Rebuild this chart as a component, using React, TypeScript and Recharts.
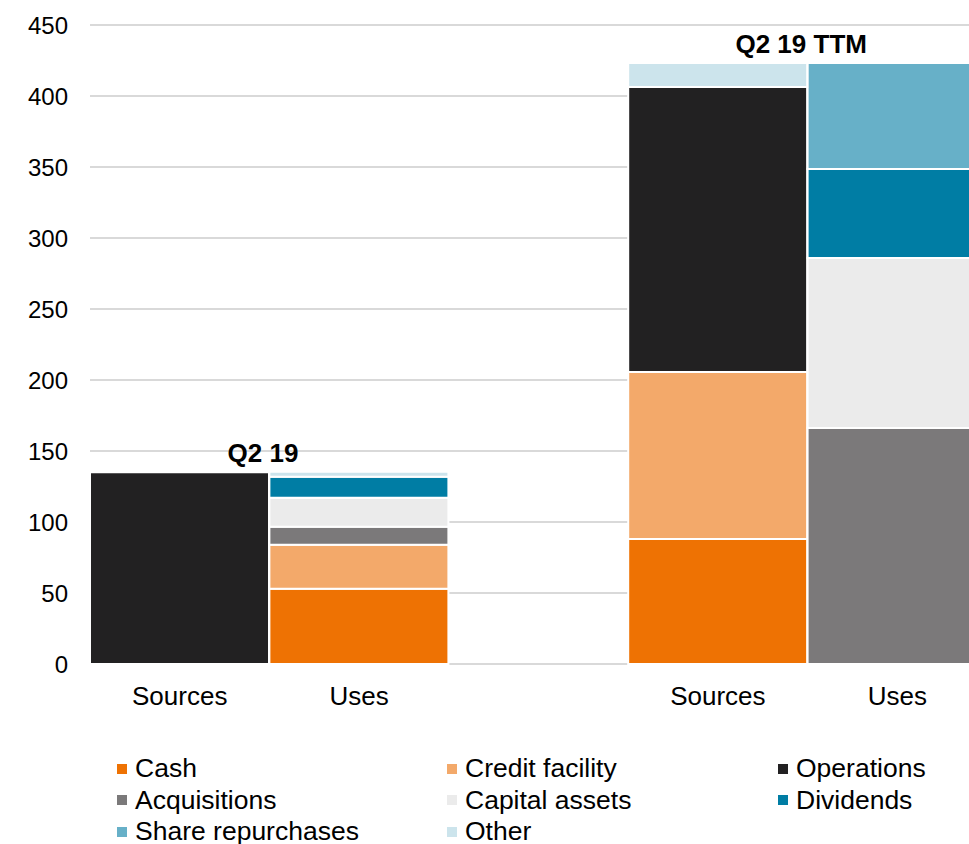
import React from 'react';
import { BarChart, Bar, XAxis, YAxis, CartesianGrid, Legend, LabelList } from 'recharts';

const categories = ['Sources', 'Uses', '', 'Sources', 'Uses'];
const groupTitles = ['Q2 19', '', '', 'Q2 19 TTM', ''];
const cash = [0, 53, 0, 88, 0];
const creditFacility = [0, 31, 0, 117.6, 0];
const operations = [135, 0, 0, 200.7, 0];
const acquisitions = [0, 12.7, 0, 0, 166.2];
const capitalAssets = [0, 20.4, 0, 0, 119.7];
const dividends = [0, 14.8, 0, 0, 62.7];
const shareRepurchases = [0, 0, 0, 0, 74.6];
const other = [0, 3.5, 0, 17, 0];
const yTicks = [0, 50, 100, 150, 200, 250, 300, 350, 400, 450];

const seriesDefs = [
  { key: 'cash', name: 'Cash', color: '#EE7203', values: cash },
  { key: 'credit', name: 'Credit facility', color: '#F3A96A', values: creditFacility },
  { key: 'ops', name: 'Operations', color: '#222122', values: operations },
  { key: 'acq', name: 'Acquisitions', color: '#7B797A', values: acquisitions },
  { key: 'cap', name: 'Capital assets', color: '#EBEBEB', values: capitalAssets },
  { key: 'div', name: 'Dividends', color: '#007DA4', values: dividends },
  { key: 'share', name: 'Share repurchases', color: '#67B0C8', values: shareRepurchases },
  { key: 'other', name: 'Other', color: '#CCE4EC', values: other },
];

const data = categories.map((c, i) => {
  const row: any = { name: c };
  let topKey = '';
  seriesDefs.forEach((s) => {
    row[s.key] = s.values[i];
    if (s.values[i] > 0) topKey = s.key;
  });
  if (groupTitles[i] && topKey) row['title_' + topKey] = groupTitles[i];
  return row;
});

const FONT = 'Liberation Sans, Arial, sans-serif';

const renderLegend = () => (
  <div
    style={{
      height: 120,
      boxSizing: 'border-box',
      paddingTop: 29,
      paddingLeft: 117,
      display: 'grid',
      gridTemplateColumns: '330px 331px 200px',
      gridAutoRows: '31.5px',
      fontFamily: FONT,
      fontSize: 26.5,
      color: '#000',
    }}
  >
    {seriesDefs.map((s) => (
      <div key={s.key} style={{ display: 'flex', alignItems: 'center', whiteSpace: 'nowrap' }}>
        <span style={{ width: 10, height: 10, background: s.color, display: 'inline-block', marginRight: 8 }} />
        <span>{s.name}</span>
      </div>
    ))}
  </div>
);

const TitleLabel = (props: any) => {
  const { x, y, width, value } = props;
  if (!value) return null;
  return (
    <text
      x={x + width - 6}
      y={y - 10}
      textAnchor="middle"
      fontFamily={FONT}
      fontSize={26}
      fontWeight="bold"
      fill="#000"
    >
      {value}
    </text>
  );
};

export default function App() {
  return (
    <div style={{ position: 'absolute', left: 0, top: 0, width: 969, height: 844, overflow: 'hidden', background: '#fff' }}>
      <BarChart
        width={987}
        height={844}
        data={data}
        margin={{ top: 25, right: 0, bottom: 0, left: 0 }}
        barCategoryGap={0}
        barGap={0}
      >
        <CartesianGrid vertical={false} stroke="#D9D9D9" strokeWidth={2} />
        <XAxis
          dataKey="name"
          axisLine={false}
          tickLine={false}
          tickSize={0}
          tickMargin={23}
          height={60}
          interval={0}
          tick={{ fontFamily: FONT, fontSize: 26, fill: '#000' }}
        />
        <YAxis
          domain={[0, 450]}
          ticks={yTicks}
          axisLine={false}
          tickLine={false}
          tickSize={0}
          tickMargin={22}
          width={90}
          tick={{ fontFamily: FONT, fontSize: 24, fill: '#000' }}
        />
        <Legend verticalAlign="bottom" content={renderLegend} />
        {seriesDefs.map((s) => (
          <Bar
            key={s.key}
            dataKey={s.key}
            name={s.name}
            stackId="a"
            fill={s.color}
            stroke="#fff"
            strokeWidth={2}
            isAnimationActive={false}
          >
            <LabelList dataKey={'title_' + s.key} content={TitleLabel} />
          </Bar>
        ))}
      </BarChart>
    </div>
  );
}
